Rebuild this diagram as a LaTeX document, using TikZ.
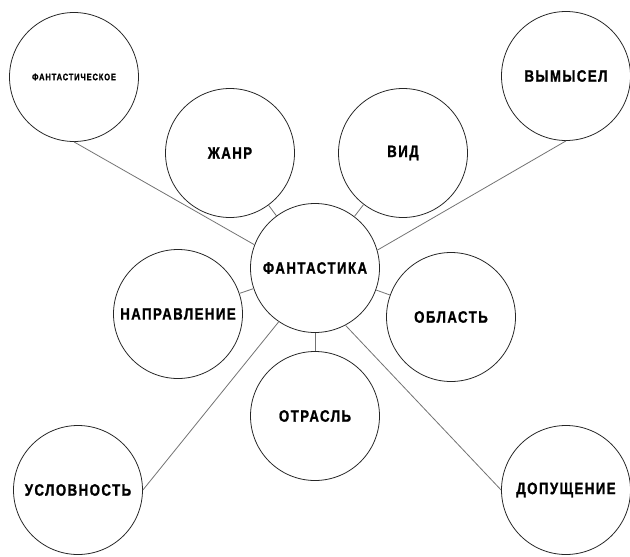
\documentclass[tikz,border=0pt]{standalone}
\usepackage{fontspec}
\newfontfamily\lblfont{Liberation Sans}[FakeStretch=0.8,LetterSpace=9,BoldFeatures={FakeBold=1.2}]

\begin{document}
\begin{tikzpicture}[x=1pt, y=-1pt,
	crc/.style={draw=black!85, line width=0.8pt, circle, minimum size=129pt, inner sep=0pt,
		font=\lblfont\bfseries\fontsize{16.5}{17}\selectfont},
	lnk/.style={draw=black!55, line width=0.8pt}]
	\useasboundingbox (0, 0) rectangle (630, 557);

	%centro
	\node[crc] (fant) at (315, 268) {ФАНТАСТИКА};

	%circulos proximos
	\node[crc] (zhanr) at (230, 153) {ЖАНР};
	\node[crc] (vid) at (403, 153) {ВИД};
	\node[crc] (napr) at (178, 314) {НАПРАВЛЕНИЕ};
	\node[crc] (obl) at (451, 317) {ОБЛАСТЬ};
	\node[crc] (otr) at (315, 416) {ОТРАСЛЬ};

	%circulos dos cantos
	\node[crc, font=\lblfont\bfseries\fontsize{9.4}{10}\selectfont] (fantch) at (74, 77) {ФАНТАСТИЧЕСКОЕ};
	\node[crc] (vym) at (566, 76) {ВЫМЫСЕЛ};
	\node[crc] (usl) at (78, 490) {УСЛОВНОСТЬ};
	\node[crc] (dop) at (566, 490) {ДОПУЩЕНИЕ};

	%ligacoes curtas
	\draw[lnk] (zhanr) -- (fant);
	\draw[lnk] (vid) -- (fant);
	\draw[lnk] (napr) -- (fant);
	\draw[lnk] (obl) -- (fant);
	\draw[lnk] (otr) -- (fant);

	%ligacoes longas
	\draw[lnk] (fantch.south) -- (fant.159);
	\draw[lnk] (vym.south) -- (fant.16);
	\draw[lnk] (usl.east) -- (fant.236);
	\draw[lnk] (dop.west) -- (fant.-62);
\end{tikzpicture}
\end{document}
